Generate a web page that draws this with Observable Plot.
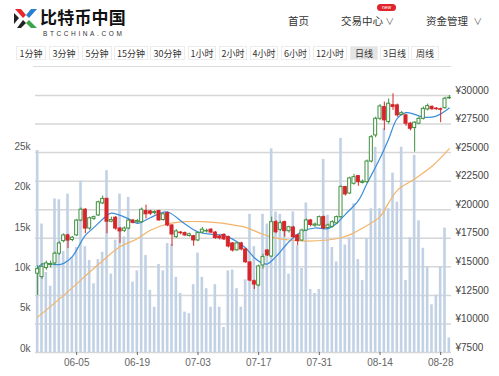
<!DOCTYPE html>
<html><head><meta charset="utf-8">
<script src="https://cdn.jsdelivr.net/npm/d3@7"></script>
<script src="https://cdn.jsdelivr.net/npm/@observablehq/plot@0.6"></script>
<style>
body{margin:0;background:#fff;font-family:"Noto Sans CJK SC","Noto Sans",sans-serif;}
#page{position:relative;width:499px;height:376px;overflow:hidden;background:#fff;}
.abs{position:absolute;white-space:nowrap;}
.nav{font-size:10.5px;color:#333;top:13px;}
.tab{position:absolute;top:46px;height:14px;line-height:14px;font-size:9px;color:#333;text-align:center;border:1px solid #ececec;box-sizing:border-box;}
.tab.sel{background:#e4e4e4;}
.layer{position:absolute;left:0;top:72px;}
</style></head><body>
<div id="page">
  <svg class="abs" style="left:14px;top:8px" width="24" height="21" viewBox="0 0 24 21">
    <polygon points="1,1 7,1 12,7 9,10" fill="#e8262d"/>
    <polygon points="23,1 17,1 12,7 15,10" fill="#2a7fd4"/>
    <polygon points="0,5 5,10 0,16" fill="#222"/>
    <polygon points="9,12 12,15 7,20 3,20" fill="#222"/>
    <polygon points="15,12 12,15 17,20 23,20" fill="#3aa54a"/>
  </svg>
  <div class="abs" style="left:40px;top:8px;font-size:17px;line-height:17px;font-weight:bold;color:#111;letter-spacing:0.2px">比特币中国</div>
  <div class="abs" style="left:43px;top:30px;font-size:6.5px;line-height:7px;color:#333;letter-spacing:2.6px;font-family:'Liberation Sans',sans-serif">BTCCHINA.COM</div>
  <div class="abs nav" style="left:288px">首页</div>
  <div class="abs nav" style="left:341px">交易中心 <span style="font-size:9px;color:#666">∨</span></div>
  <div class="abs" style="left:377px;top:4px;width:19px;height:7px;border-radius:4px;background:#e0242b;color:#fff;font-size:5px;line-height:7px;text-align:center;font-family:'Liberation Sans',sans-serif">new</div>
  <div class="abs nav" style="left:426px">资金管理 <span style="font-size:9px;color:#666;margin-left:3px">∨</span></div>
  <div id="tabs"></div>
  <div class="abs" style="left:33px;top:66px;width:418px;height:1px;background:#dcdcdc"></div>
  <div id="l1" class="layer"></div>
  <div id="l2" class="layer"></div>
  <div id="l3" class="layer"></div>
</div>
<script>
// ---------- data ----------
const tabLabels = ["1分钟","3分钟","5分钟","15分钟","30分钟","1小时","2小时","4小时","6小时","12小时","日线","3日线","周线"];
const dates = d3.utcDay.range(new Date(Date.UTC(2017,4,27)), new Date(Date.UTC(2017,7,31)));
const open = [14400,14100,14900,15150,15300,16150,17250,17750,17350,17750,19050,20000,18350,19200,19500,20550,20950,18950,19300,18350,18150,18350,19050,18900,18900,19880,19850,19700,19880,19100,19700,18620,17600,18000,17950,17700,17680,17310,18000,18100,18250,18000,17650,17800,17600,17050,16450,17050,16520,15380,13740,13370,15120,16430,15900,18910,18240,18910,18120,18440,17750,17300,18180,19060,18600,18620,19350,18400,18500,18810,19350,21980,21420,22270,22940,22350,22410,24220,26500,27960,28980,27670,29150,29130,28300,28260,27530,27150,27530,27960,28780,29000,28850,28800,28890,29750];
const close = [14800,15000,15300,15250,16150,17050,17750,17300,17550,19050,20000,18350,19250,19350,20650,20950,18950,19100,18350,18100,18350,19050,18850,19000,20000,19600,19650,19800,19060,19600,18620,17830,18100,17950,17750,17850,17310,17950,18250,18150,18000,17520,17500,17400,16780,16430,17050,16520,15400,13800,13450,15030,15850,16000,18910,18030,18820,18120,18470,17600,17250,18180,19060,18660,18700,19350,18360,18620,18910,19350,21980,21340,22740,22850,22410,22450,24220,26350,27960,29040,27820,29280,29000,28260,28450,27530,27090,27620,27960,28830,29070,28800,28800,28750,29720,29800];
const high = [15100,15300,15500,15500,16300,17200,17900,17850,17650,19150,20150,20100,19350,19450,20750,21200,21000,19350,19400,18450,18500,19150,19150,19150,20150,20400,19950,19900,19950,19700,19800,18700,18250,18100,18050,17950,17750,18050,18450,18300,18350,18100,17750,17900,17700,17100,17150,17150,16600,15450,13850,15150,16100,16500,19350,19050,19000,19000,18550,18550,17850,18300,19200,19150,18850,19450,19450,18750,19050,19450,22100,22050,22850,23100,23000,22600,24350,26500,28100,29200,29420,29700,30150,29250,28600,28350,27650,27700,28100,29000,29250,29100,28950,28900,29850,30000];
const low = [12500,13900,14700,14900,15100,16000,17100,16600,17200,17650,18950,17900,18200,19050,19400,20450,17900,18850,18200,17050,18000,18250,18750,18800,18800,19200,19500,19550,19000,19000,18500,16780,17500,17800,17650,17600,16800,17200,17900,17950,17900,17400,17350,17300,16650,16300,16350,16400,15300,13700,13020,13250,14800,15900,15800,17900,18100,17600,17950,17500,16850,17200,18100,18500,18450,18550,18250,18300,18400,18700,19250,21200,21350,22150,22050,22250,22300,24100,26300,27800,26940,27500,28700,28100,28200,27300,26900,25040,27450,27850,28650,28700,28700,27620,28800,29650];
const volume = [25000,15900,9900,8200,19000,18900,12500,19600,11800,13000,21200,13100,11400,8500,11500,12400,22500,9700,13900,19600,14300,19200,8700,10100,16500,12000,7700,5600,10900,10100,13500,13400,9300,7300,5000,4800,8400,12300,9300,7900,5600,8400,5600,3100,10100,10200,7900,5600,9000,17100,13100,10000,17100,15900,25200,17400,17100,16000,9700,17400,13200,10400,18500,7800,7300,7800,23900,17000,13000,11200,26500,13300,14200,18400,11500,8900,14100,17800,25400,17800,27700,17800,22200,18600,25400,8900,14200,24400,16300,12900,10600,5900,7100,10600,15400,1800];
const maFastIdx = [0,1,3,5,6,8,11,13,16,17,21,23,26,28,30,34,37,40,43,46,48,50,52,53,55,58,61,64,67,69,71,74,76,79,81,83,85,87,89,92,95];
const maFastVal = [14900,15250,15250,15200,15300,15900,17750,18450,19500,19700,19200,18800,19300,19650,19800,18750,18050,17850,17750,17200,16650,15800,15300,15250,15900,17200,18100,18400,18350,18800,19600,20800,22300,24500,26200,28000,28500,28350,28100,28200,28900];
const maSlowIdx = [0,6,14,19,23,26,30,34,38,43,46,48,51,54,58,62,67,70,72,75,79,81,83,87,91,95];
const maSlowVal = [10600,12500,15200,16750,17450,18200,18750,18950,18950,18800,18600,18450,18000,17600,17350,17250,17350,17550,17800,18400,19400,20600,21700,22700,23800,25350];
const priceTicks = [7500,10000,12500,15000,17500,20000,22500,25000,27500,30000];
const volumeTicks = [0,5000,10000,15000,20000,25000];
const dateTickLabels = ["2017-06-05","2017-06-19","2017-07-03","2017-07-17","2017-07-31","2017-08-14","2017-08-28"];

// ---------- tabs ----------
const tabBoxes = [[16,30],[49,30],[82,30],[114,34],[150,35],[188,28],[219,28],[250,28],[281,29],[313,34],[350,28],[380,29],[411,28]];
const tabsEl = document.getElementById("tabs");
tabLabels.forEach((t,i)=>{
  const d=document.createElement("div");
  d.className="tab"+(t==="日线"?" sel":"");
  d.style.left=tabBoxes[i][0]+"px"; d.style.width=tabBoxes[i][1]+"px";
  d.textContent=t; tabsEl.appendChild(d);
});

// ---------- chart ----------
const rows = dates.map((date,i)=>({date, open:open[i], close:close[i], high:high[i], low:low[i], vol:volume[i], up:close[i]>=open[i]}));
const fast = maFastIdx.map((k,j)=>({date:dates[k], v:maFastVal[j]}));
const slow = maSlowIdx.map((k,j)=>({date:dates[k], v:maSlowVal[j]}));
const dateTicks = dateTickLabels.map(s=>new Date(s+"T00:00:00Z"));
const GREEN="#3f8f3f", RED="#d4262b";

const base = {
  width:499, height:304, marginLeft:35, marginRight:48, marginTop:23, marginBottom:24,
  style:{background:"transparent", fontFamily:"'Liberation Sans',Arial,sans-serif", fontSize:"10px", color:"#555", overflow:"visible"},
  x:{type:"band", domain:dates, paddingInner:0.3, paddingOuter:0.15, align:0.5, axis:null, label:null}
};

document.getElementById("l1").append(Plot.plot({
  ...base,
  y:{domain:[7500,30000], axis:null, label:null},
  marks:[
    Plot.gridY(priceTicks, {stroke:"#d6d6d6", strokeOpacity:1, strokeWidth:1.5}),
    Plot.axisY(priceTicks, {anchor:"right", tickSize:0, tickPadding:4, dy:-5, label:null, tickFormat:d=>"¥"+d, color:"#444"}),
    Plot.axisX(dateTicks, {tickSize:3, tickPadding:3, label:null, tickFormat:d3.utcFormat("%m-%d"), color:"#666"})
  ]
}));

document.getElementById("l2").append(Plot.plot({
  ...base,
  marginTop:78,
  y:{domain:[0,25000], axis:null, label:null},
  marks:[
    Plot.barY(rows, {x:"date", y:"vol", fill:"#c2d2e4", insetLeft:0.2, insetRight:0.2}),
    Plot.axisY(volumeTicks, {anchor:"left", tickSize:0, tickPadding:5, dy:-4, label:null, tickFormat:d=>(d/1000)+"k", color:"#555"})
  ]
}));

document.getElementById("l3").append(Plot.plot({
  ...base,
  y:{domain:[7500,30000], axis:null, label:null},
  marks:[
    Plot.line(slow, {x:"date", y:"v", stroke:"#f3b46a", strokeWidth:1.2, curve:"catmull-rom"}),
    Plot.line(fast, {x:"date", y:"v", stroke:"#3b8edb", strokeWidth:1.2, curve:"catmull-rom"}),
    Plot.ruleX(rows, {x:"date", y1:"low", y2:"high", stroke:d=>d.up?GREEN:RED, strokeWidth:1}),
    Plot.barY(rows, {x:"date", y1:"open", y2:"close", fill:d=>d.up?"#ffffff":RED, stroke:d=>d.up?GREEN:RED, strokeWidth:1})
  ]
}));
</script>
</body></html>
